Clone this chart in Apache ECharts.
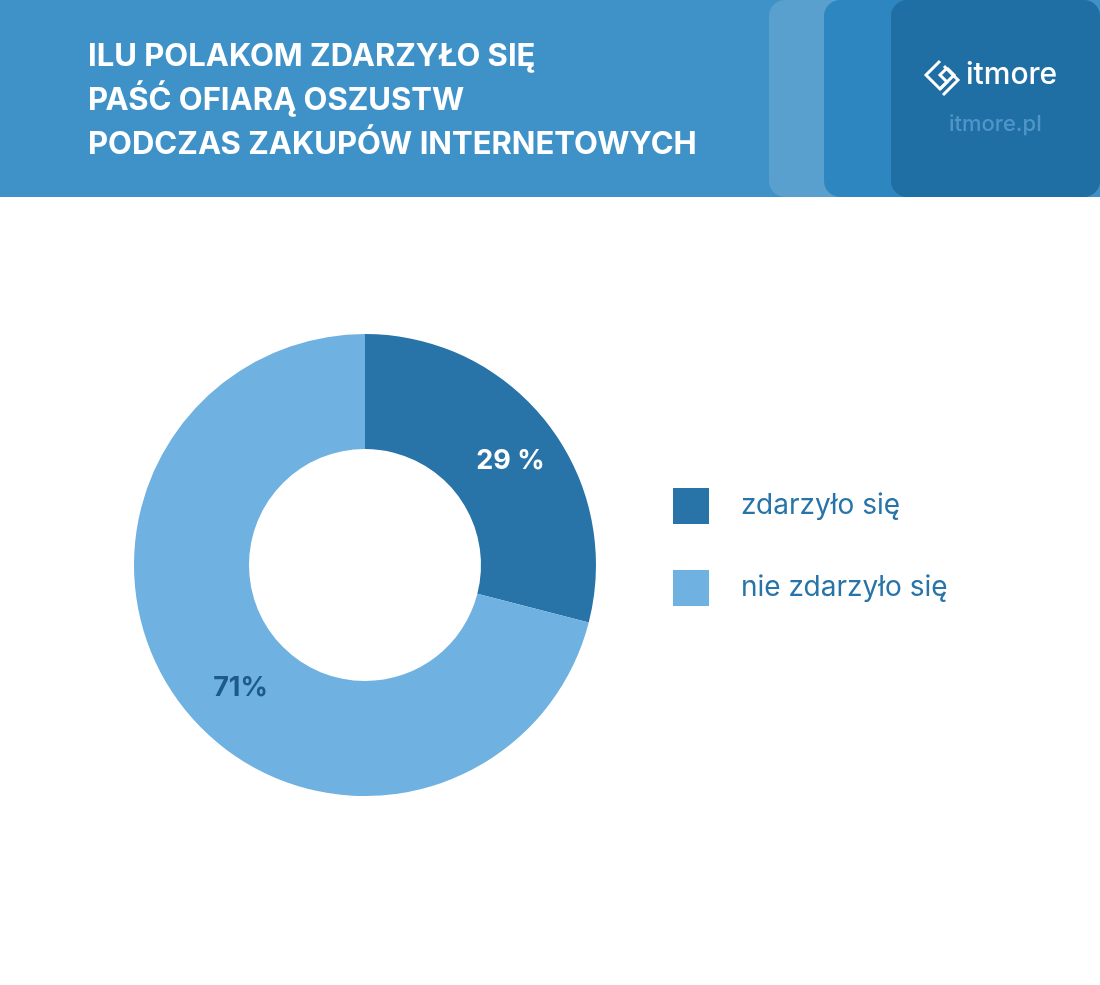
<!DOCTYPE html>
<html><head><meta charset="utf-8">
<script src="https://cdn.jsdelivr.net/npm/echarts@6/dist/echarts.min.js"></script>
<style>html,body{margin:0;padding:0;background:#fff}#main{width:1100px;height:985px}</style>
</head><body><div id="main"></div>
<script>
var categories = ['zdarzyło się', 'nie zdarzyło się'];
var values = [29, 71];
var labels = ['29 %', '71%'];
var colors = ['#2874a8', '#6fb1e0'];

var myChart = echarts.init(document.getElementById('main'));
var font = 'Inter, "Noto Sans", sans-serif';
var option = {
    animation: false,
    graphic: [
        {type: 'rect', shape: {x: 0, y: 0, width: 1100, height: 197}, style: {fill: '#3f92c8'}},
        {type: 'rect', shape: {x: 769, y: 0, width: 331, height: 197, r: 16}, style: {fill: '#5aa0cf'}},
        {type: 'rect', shape: {x: 824, y: 0, width: 276, height: 197, r: 16}, style: {fill: '#2e86c1'}},
        {type: 'rect', shape: {x: 891, y: 0, width: 209, height: 197, r: 16}, style: {fill: '#1f6fa5'}},
        {type: 'text', left: 88, top: 35, style: {text: 'ILU POLAKOM ZDARZYŁO SIĘ\nPAŚĆ OFIARĄ OSZUSTW\nPODCZAS ZAKUPÓW INTERNETOWYCH', fill: '#fff', font: 'bold 31px ' + font, lineHeight: 44}},
        {type: 'polyline', shape: {points: [[940, 61], [926, 75], [940, 89], [947, 82], [940, 75], [947, 68]]}, style: {stroke: '#fff', lineWidth: 3, fill: null}},
        {type: 'polyline', shape: {points: [[947, 68], [954, 75], [940, 89]]}, style: {stroke: '#fff', lineWidth: 3, fill: null}},
        {type: 'polyline', shape: {points: [[943, 95], [958, 80], [944, 66]]}, style: {stroke: '#fff', lineWidth: 3, fill: null}},
        {type: 'text', left: 966, top: 60, style: {text: 'itmore', fill: '#fff', font: '500 30px ' + font}},
        {type: 'text', left: 949, top: 113, style: {text: 'itmore.pl', fill: '#4f95c8', font: '500 22px ' + font}}
    ],
    legend: {
        orient: 'vertical', left: 668, top: 483,
        itemWidth: 36, itemHeight: 36, itemGap: 46, icon: 'rect',
        textStyle: {color: '#2874a8', fontSize: 28, fontFamily: font, padding: [0, 0, 6, 27]},
        data: categories
    },
    series: [{
        type: 'pie',
        center: [365, 565],
        radius: [116, 231],
        startAngle: 90,
        clockwise: true,
        silent: true,
        label: {
            position: 'inside',
            fontSize: 27, fontWeight: 'bold', fontFamily: font,
            formatter: function (p) { return labels[p.dataIndex]; }
        },
        labelLine: {show: false},
        data: categories.map(function (c, i) {
            return {
                name: c, value: values[i],
                itemStyle: {color: colors[i]},
                label: {color: i === 0 ? '#fff' : '#1d5a8a', offset: i === 0 ? [6, 4] : [15, 15]}
            };
        })
    }]
};
myChart.setOption(option);
</script></body></html>
